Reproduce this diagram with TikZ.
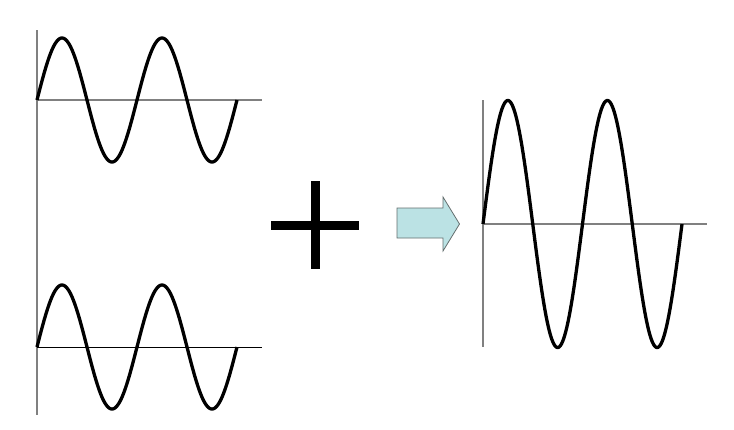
\documentclass[tikz,border=0pt]{standalone}
\definecolor{axisgray}{RGB}{128,128,128}
\definecolor{arrowfill}{RGB}{187,226,228}
\definecolor{arrowedge}{RGB}{100,110,110}
\tikzset{
  axisline/.style={draw=axisgray, line width=1.4pt},
  baseline/.style={draw=black, line width=1pt},
  wave/.style={draw=black, line width=3.3pt, line join=round},
  plusbar/.style={fill=black},
  blockarrow/.style={fill=arrowfill, draw=arrowedge, line width=0.8pt, line join=miter}
}
\begin{document}
\begin{tikzpicture}[x=1pt,y=-1pt]
\useasboundingbox (0,0) rectangle (734,429);
% left axis
\draw[axisline] (37,30) -- (37,415);
% top wave
\draw[axisline] (37,100) -- (262,100);
\draw[wave] plot[domain=0:200, samples=300, smooth] ({37+\x},{100-62*sin(3.6*\x)});
% bottom wave
\draw[baseline] (37,347) -- (262,347);
\draw[wave] plot[domain=0:200, samples=300, smooth] ({37+\x},{347-62*sin(3.6*\x)});
% plus sign
\fill[plusbar] (271,221) rectangle (359,229.5);
\fill[plusbar] (311,181) rectangle (320,269);
% block arrow
\draw[blockarrow] (397,208) -- (443,208) -- (443,197) -- (459.5,224) -- (443,251) -- (443,238) -- (397,238) -- cycle;
% right wave
\draw[axisline] (483,100) -- (483,347);
\draw[axisline] (483,224) -- (707,224);
\draw[wave] plot[domain=0:199, samples=300, smooth] ({483+\x},{224-123.5*sin(3.618*\x)});
\end{tikzpicture}
\end{document}
